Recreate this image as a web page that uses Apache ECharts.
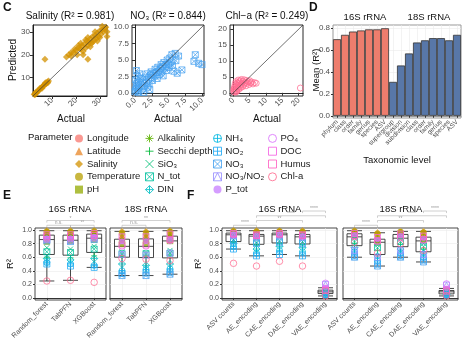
<!DOCTYPE html>
<html>
<head>
<meta charset="utf-8">
<script src="https://cdn.jsdelivr.net/npm/echarts@6/dist/echarts.min.js"></script>
<style>
  html, body { margin: 0; padding: 0; background: #fff; }
  #chart { width: 467px; height: 350px; }
</style>
</head>
<body>
<div id="chart"></div>
<script>
// ---------- data ----------
// panel C: [actual, predicted]
const salinityPts = [
  [2.5,2.8],[3,3.2],[3.5,3.3],[4,4.2],[4.5,4.4],[5,5.1],[5.5,5.6],[6,6.1],[6.3,6.5],[6.8,6.7],
  [7,7.2],[7.5,7.4],[8,8.1],[8.2,7.8],[8.5,8.6],[3.2,3.6],[4.8,5.3],[5.8,5.4],[7.2,7.8],[2.8,2.5],
  [7,18],[25,18],
  [16,19],[17,20],[18,19.5],[19,21],[20,22],[20.5,20],[21,23],[22,22.5],[22.5,24],[23,21.5],
  [23.5,24.5],[24,23],[24.5,26],[25,24],[25.5,25.5],[26,27],[26.5,25],[27,28],[27.5,26.5],[28,28.5],
  [28.5,27],[29,29.5],[29.5,28],[30,30.5],[30.5,29],[31,31],[31.5,30],[32,31.5],[32.5,32],[33,30],
  [33,28],[21,24],[24,26.5],[26,23.5],[28,30],[30,27.5],[19.5,22.5],[22,25],[27,25.5],[31,32.5],
  [23,20],[18,21],[25,27.5],[29,26]
];
const no3Pts = [
  [0,0.2],[0.1,0.5],[0.2,1.2],[0.1,2.0],[0.3,2.6],[0.2,0.9],[0.4,0.3],[0.5,1.6],[0.6,0.8],[0.8,2.2],
  [1,1.2],[1.1,0.6],[1.2,1.8],[1.4,1.1],[1.5,2.4],[1.7,1.6],[1.8,2.9],[2,2.1],[2.1,1.4],[2.3,2.7],
  [2.4,3.2],[2.5,2.4],[2.6,1.9],[2.8,3.0],[3,2.6],[3,3.6],[3.2,3.1],[3.3,2.2],[3.4,3.9],[3.5,3.3],
  [3.6,2.8],[3.8,3.7],[3.9,4.3],[4,3.2],[4.1,4.0],[4.2,2.6],[4.3,4.6],[4.5,3.8],[4.6,4.3],[4.7,3.4],
  [4.8,5.0],[5,4.4],[5.1,3.9],[5.2,5.3],[5.4,4.7],[5.5,5.8],[5.6,4.2],[5.8,3.3],[6,6.0],[6.1,4.9],
  [6.3,3.0],[6.5,5.6],[7,3.5],[8.8,4.8],[9,5.8],[9.5,4.5],[10,4.3],[0.3,1.5],[0.7,2.9],[0.2,3.4],
  [1.3,0.1],[2.2,0.5],[0.5,0.1],[1.9,0.9]
];
const chlaPts = [
  [0.1,0.5],[0.2,1.2],[0.3,0.3],[0.4,2.0],[0.5,1.5],[0.6,2.8],[0.7,0.8],[0.8,3.5],[0.9,1.9],[1,2.5],
  [1.1,0.6],[1.2,3.1],[1.3,1.4],[1.4,2.2],[1.5,4.0],[1.6,2.9],[1.7,1.1],[1.8,3.4],[2,2.0],[2.1,3.8],
  [2.2,1.6],[2.4,2.7],[2.5,4.2],[2.6,3.0],[2.8,1.9],[3,3.6],[3.1,2.4],[3.3,4.1],[3.5,2.9],[3.7,3.3],
  [3.9,2.2],[4,3.9],[4.2,3.0],[4.5,3.5],[4.8,2.6],[5,3.8],[5.3,3.1],[5.6,3.4],[6,2.8],[6.5,3.2],
  [0.3,1.0],[0.6,0.2],[1.0,0.4],[20.5,1.5],[7,3.0]
];
const salTicks = [10, 20, 30];
const no3Ticks = [0, 2.5, 5, 7.5, 10];
const chlaTicks = [0, 5, 10, 15, 20];

// panel D
const taxa16S = ['phylum','class','order','family','genus','species','ASV'];
const taxa18S = ['supergroup','division','subdivision','class','order','family','genus','species','ASV'];
const meanR2_16S = [0.70, 0.74, 0.77, 0.78, 0.79, 0.79, 0.80];
const meanR2_18S = [0.31, 0.46, 0.57, 0.67, 0.69, 0.71, 0.71, 0.69, 0.74];
const meanTicks = [0, 0.2, 0.4, 0.6, 0.8];

// panels E/F
const params = ['Longitude','Latitude','Salinity','Temperature','pH',
  'Alkalinity','Secchi depth','SiO₃','N_tot','DIN',
  'NH₄','NO₂','NO₃','NO₃/NO₂','P_tot',
  'PO₄','DOC','Humus','Chl-a'];
const modelCats = ['Random_forest','TabPFN','XGBoost'];
const encCats = ['ASV counts','AE_encoding','CAE_encoding','DAE_encoding','VAE_encoding'];
const r2Ticks = [0, 0.2, 0.4, 0.6, 0.8, 1.0];

// R² of each parameter (params order), one row per category
const e16S = [
  [.94,.96,.99,.97,.83,.92,.60,.74,.68,.58,.52,.50,.84,.86,.88,.87,.93,.90,.25],
  [.93,.96,.99,.97,.84,.92,.59,.72,.67,.56,.50,.47,.83,.85,.88,.87,.93,.90,.26],
  [.95,.97,.99,.98,.86,.93,.62,.76,.72,.58,.48,.45,.86,.88,.90,.89,.95,.92,.23]
];
const e18S = [
  [.88,.92,.98,.95,.80,.85,.62,.68,.65,.50,.40,.36,.33,.64,.83,.76,.90,.78,.58],
  [.88,.93,.98,.95,.81,.86,.62,.67,.65,.48,.42,.37,.33,.63,.84,.76,.90,.78,.57],
  [.92,.94,.99,.97,.84,.90,.63,.70,.66,.50,.43,.38,.35,.66,.86,.84,.94,.86,.55]
];
const f16S = [
  [.97,.98,.99,.98,.94,.96,.82,.90,.86,.80,.76,.72,.84,.92,.93,.93,.95,.94,.51],
  [.95,.97,.99,.97,.92,.94,.78,.88,.82,.72,.66,.62,.80,.90,.91,.91,.93,.92,.47],
  [.97,.98,.99,.98,.93,.96,.80,.90,.84,.76,.70,.64,.82,.92,.93,.93,.95,.94,.54],
  [.95,.97,.99,.97,.91,.94,.79,.88,.83,.74,.68,.62,.80,.90,.91,.90,.93,.92,.47],
  [.12,.10,.08,.11,.09,.10,.06,.09,.08,.05,.04,.05,.07,.20,.15,.22,.13,.11,.03]
];
const f18S = [
  [.95,.97,.99,.98,.92,.94,.80,.88,.84,.74,.68,.62,.60,.70,.93,.90,.95,.92,.82],
  [.86,.92,.96,.94,.82,.87,.70,.78,.74,.62,.55,.50,.47,.60,.86,.83,.89,.84,.66],
  [.94,.96,.98,.97,.91,.93,.79,.87,.83,.72,.66,.62,.60,.70,.92,.88,.94,.91,.80],
  [.90,.94,.98,.96,.85,.89,.72,.80,.76,.66,.60,.56,.53,.64,.88,.84,.91,.86,.70],
  [.10,.09,.08,.12,.09,.10,.06,.09,.07,.05,.04,.05,.06,.19,.14,.21,.12,.10,.03]
];
// significance: [catA, catB, label, level]
const sigE16 = [[0,1,'n.s.',0],[1,2,'**',0],[0,2,'*',1]];
const sigE18 = [[0,1,'n.s.',0],[0,2,'**',1]];
const sigF16 = [[0,1,'****',0],[1,3,'**',1],[1,4,'****',2],[3,4,'****',3]];
const sigF18 = [[0,1,'****',0],[1,3,'**',1],[1,4,'****',2],[3,4,'****',3]];

// ---------- styles ----------
const CIRC = 'path://M0,5A5,5,0,1,1,10,5A5,5,0,1,1,0,5Z';
const SYM = {
  asterisk: 'path://M5,0L5,10M0,5L10,5M1.5,1.5L8.5,8.5M8.5,1.5L1.5,8.5',
  plus: 'path://M5,0L5,10M0,5L10,5',
  cross: 'path://M0,0L10,10M10,0L0,10',
  squareX: 'path://M0,0L10,0L10,10L0,10ZM0,0L10,10M10,0L0,10',
  diamondPlus: 'path://M5,0L10,5L5,10L0,5ZM5,0L5,10M0,5L10,5',
  circlePlus: CIRC + 'M5,0L5,10M0,5L10,5',
  squarePlus: 'path://M0,0L10,0L10,10L0,10ZM5,0L5,10M0,5L10,5',
  squareTri: 'path://M0,0L10,0L10,10L0,10ZM0,10L5,0L10,10',
  openCircle: CIRC,
  openSquare: 'path://M0,0L10,0L10,10L0,10Z'
};
// [symbol, color, filled, size]
const pStyle = [
  ['circle','#F8766D',1,6],['triangle','#E88526',1,6],['diamond','#D39200',1,7],['circle','#B79F00',1,6.5],['rect','#93AA00',1,6.5],
  [SYM.asterisk,'#5EB300',0,6],[SYM.plus,'#00BA38',0,6],[SYM.cross,'#00BF74',0,5],[SYM.squareX,'#00C19F',0,6],[SYM.diamondPlus,'#00BFC4',0,7],
  [SYM.circlePlus,'#00B9E3',0,6],[SYM.squarePlus,'#22AAF5',0,6],[SYM.squareX,'#4AA3F0',0,6],[SYM.squareTri,'#9A90FF',0,6],['circle','#C77CFF',1,5.5],
  [SYM.openCircle,'#DB72FB',0,6],[SYM.openSquare,'#F564E3',0,6],[SYM.openSquare,'#FF61C3',0,6],[SYM.openCircle,'#FF6C91',0,6.5]
];
function itemStyleOf(s) {
  return s[2] ? { color: s[1], opacity: 0.75 }
              : { color: 'transparent', borderColor: s[1], borderWidth: 0.9, opacity: 0.85 };
}

const FONT = 'Liberation Sans, Arial, sans-serif';
const txtCol = '#4d4d4d';

function quantile(s, p) {
  const h = (s.length - 1) * p, lo = Math.floor(h);
  const hi = Math.min(lo + 1, s.length - 1);
  return s[lo] + (h - lo) * (s[hi] - s[lo]);
}
function boxStats(vals) {
  const s = vals.slice().sort((a, b) => a - b);
  const q1 = quantile(s, 0.25), med = quantile(s, 0.5), q3 = quantile(s, 0.75);
  const iqr = q3 - q1;
  const lo = s.find(v => v >= q1 - 1.5 * iqr);
  const hi = s.slice().reverse().find(v => v <= q3 + 1.5 * iqr);
  return [lo, q1, med, q3, hi];
}

// ---------- chart ----------
const chart = echarts.init(document.getElementById('chart'));

const grids = [
  { left: 33, top: 25, width: 74, height: 71 },   // C salinity
  { left: 132, top: 25, width: 72, height: 71 },  // C NO3
  { left: 230, top: 25, width: 73, height: 71 },  // C Chl-a
  { left: 333, top: 25, width: 128, height: 93 }, // D
  { left: 35, top: 228, width: 71, height: 72 },  // E 16S
  { left: 110, top: 228, width: 72, height: 72 }, // E 18S
  { left: 222, top: 228, width: 115, height: 72 },// F 16S
  { left: 343, top: 228, width: 115, height: 72 } // F 18S
].map((g, i) => Object.assign(g, {
  show: true, outerBoundsMode: 'none', backgroundColor: '#fff',
  borderColor: i < 3 ? '#111' : (i === 3 ? '#999' : '#333'), borderWidth: i === 3 ? 1 : 0.9
}));

const xAxes = [], yAxes = [], series = [];

function cAxis(gi, min, max, ticks, dec, isX) {
  return {
    type: 'value', gridIndex: gi, min: min, max: max,
    axisLine: { show: true, lineStyle: { color: '#111', width: 0.9 } },
    axisTick: { show: true, length: 3, lineStyle: { color: '#333' }, customValues: ticks },
    axisLabel: { customValues: ticks, fontSize: 8, color: txtCol, fontFamily: FONT, margin: 3,
      rotate: isX ? 45 : 0, formatter: v => (+v).toFixed(dec) },
    splitLine: { show: false }
  };
}
const cRanges = [[2, 33, salTicks, 0], [-0.45, 10.3, no3Ticks, 1], [-1, 21.3, chlaTicks, 0]];
const cData = [salinityPts, no3Pts, chlaPts];
const cStyle = [pStyle[2], pStyle[12], pStyle[18]];
cRanges.forEach((r, i) => {
  xAxes.push(cAxis(i, r[0], r[1], r[2], r[3], true));
  yAxes.push(cAxis(i, r[0], r[1], r[2], r[3], false));
  series.push({
    type: 'scatter', xAxisIndex: i, yAxisIndex: i, data: cData[i],
    symbol: cStyle[i][0], symbolSize: i === 0 ? 7 : 6, itemStyle: itemStyleOf(cStyle[i]), z: 2
  });
  series.push({
    type: 'line', xAxisIndex: i, yAxisIndex: i, data: [[r[0], r[0]], [r[1], r[1]]],
    symbol: 'none', lineStyle: { color: '#333', width: 0.7 }, z: 3, silent: true
  });
});

// D
const taxaAll = taxa16S.concat(taxa18S);
xAxes.push({
  type: 'category', gridIndex: 3, data: taxaAll.map((t, i) => String(i)),
  axisLine: { show: true, lineStyle: { color: '#999' } },
  axisTick: { show: true, length: 2, alignWithLabel: true, lineStyle: { color: '#333' } },
  axisLabel: { interval: 0, rotate: 45, fontSize: 6.5, color: txtCol, fontFamily: FONT, margin: 3,
    formatter: v => taxaAll[+v] },
  splitLine: { show: true, alignWithLabel: true, lineStyle: { color: '#ebebeb', width: 0.6 } }
});
yAxes.push({
  type: 'value', gridIndex: 3, min: -0.02, max: 0.83,
  axisLine: { show: false },
  axisTick: { show: true, length: 2, customValues: meanTicks, lineStyle: { color: '#333' } },
  axisLabel: { customValues: meanTicks, fontSize: 8, color: txtCol, fontFamily: FONT, margin: 3,
    formatter: v => (+v).toFixed(1) },
  splitLine: { show: true, lineStyle: { color: '#ebebeb', width: 0.6 } }
});
series.push({
  type: 'bar', xAxisIndex: 3, yAxisIndex: 3, barCategoryGap: '0%',
  data: meanR2_16S.map(v => ({ value: v, itemStyle: { color: '#EE7D6D' } }))
    .concat(meanR2_18S.map(v => ({ value: v, itemStyle: { color: '#5877A8' } }))),
  itemStyle: { borderColor: '#333', borderWidth: 0.8 }
});

// E / F
const boxPanels = [
  { gi: 4, cats: modelCats, vals: e16S, yLabels: true },
  { gi: 5, cats: modelCats, vals: e18S, yLabels: false },
  { gi: 6, cats: encCats, vals: f16S, yLabels: true },
  { gi: 7, cats: encCats, vals: f18S, yLabels: false }
];
boxPanels.forEach(p => {
  xAxes.push({
    type: 'category', gridIndex: p.gi, data: p.cats,
    axisLine: { show: true, lineStyle: { color: '#333' } },
    axisTick: { show: true, length: 2, alignWithLabel: true, lineStyle: { color: '#333' } },
    axisLabel: { interval: 0, rotate: 45, fontSize: 7, color: txtCol, fontFamily: FONT, margin: 3 },
    splitLine: { show: true, alignWithLabel: true, lineStyle: { color: '#ebebeb', width: 0.6 } }
  });
  yAxes.push({
    type: 'value', gridIndex: p.gi, min: -0.03, max: 1.03,
    axisLine: { show: false },
    axisTick: { show: p.yLabels, length: 2, customValues: r2Ticks, lineStyle: { color: '#333' } },
    axisLabel: { show: p.yLabels, customValues: r2Ticks, fontSize: 7, color: txtCol, fontFamily: FONT, margin: 3,
      formatter: v => (+v).toFixed(1) },
    splitLine: { show: true, lineStyle: { color: '#ebebeb', width: 0.6 } }
  });
  series.push({
    type: 'boxplot', xAxisIndex: p.gi, yAxisIndex: p.gi, boxWidth: [15, 15],
    data: p.vals.map(boxStats),
    itemStyle: { color: '#fff', borderColor: '#333', borderWidth: 0.9 }, z: 2, silent: true
  });
  params.forEach((name, k) => {
    const s = pStyle[k];
    series.push({
      type: 'scatter', name: name, xAxisIndex: p.gi, yAxisIndex: p.gi,
      data: p.vals.map((row, i) => [i, row[k]]),
      symbol: s[0], symbolSize: s[3], itemStyle: itemStyleOf(s), z: 3
    });
  });
});

const legendCols = [[0, 5, 75], [5, 10, 145], [10, 15, 213], [15, 19, 268]];
const legends = legendCols.map(c => ({
  data: params.slice(c[0], c[1]), orient: 'vertical', left: c[2], top: 132,
  itemWidth: 8, itemHeight: 8, itemGap: 0, selectedMode: false, padding: 0,
  textStyle: { fontSize: 9.5, color: '#222', fontFamily: FONT, lineHeight: 12.8, padding: [0, 0, 0, -1] },
  itemStyle: { borderWidth: 1 }
}));

chart.setOption({
  animation: false,
  textStyle: { fontFamily: FONT },
  grid: grids, xAxis: xAxes, yAxis: yAxes, series: series, legend: legends
});

// ---------- text + significance brackets ----------
function T(text, x, y, o) {
  o = o || {};
  return {
    type: 'text', x: x, y: y, rotation: o.rot || 0, silent: true,
    style: { text: text, fontSize: o.size || 10, fontWeight: o.bold ? 'bold' : 'normal',
      fill: o.fill || '#111', fontFamily: FONT, align: o.align || 'center', verticalAlign: 'middle' }
  };
}
const els = [
  T('C', 3, 8, { bold: true, size: 12, align: 'left' }),
  T('D', 309, 8, { bold: true, size: 12, align: 'left' }),
  T('E', 3, 196, { bold: true, size: 12, align: 'left' }),
  T('F', 187, 196, { bold: true, size: 12, align: 'left' }),
  T('Salinity (R² = 0.981)', 70, 16),
  T('NO₃ (R² = 0.844)', 168, 16),
  T('Chl−a (R² = 0.249)', 267, 16),
  T('Predicted', 13, 60, { rot: Math.PI / 2 }),
  T('Actual', 71, 119), T('Actual', 168, 119), T('Actual', 267, 119),
  T('16S rRNA', 365, 17, { size: 9.5 }), T('18S rRNA', 429, 17, { size: 9.5 }),
  T('Mean (R²)', 316, 70, { rot: Math.PI / 2, size: 9.5 }),
  T('Taxonomic level', 397, 160, { size: 9.5 }),
  T('Parameter', 28, 137, { align: 'left', size: 9.5 }),
  T('16S rRNA', 70, 209, { size: 9.5 }), T('18S rRNA', 146, 209, { size: 9.5 }),
  T('16S rRNA', 280, 209, { size: 9.5 }), T('18S rRNA', 401, 209, { size: 9.5 }),
  T('R²', 10, 264, { rot: Math.PI / 2, size: 9.5 }),
  T('R²', 198, 264, { rot: Math.PI / 2, size: 9.5 })
];
const levels = [1.07, 1.14, 1.21, 1.28];
function brackets(gi, sig) {
  sig.forEach(([a, b, label, lvl]) => {
    const y = levels[lvl];
    const p1 = chart.convertToPixel({ gridIndex: gi }, [a, y]);
    const p2 = chart.convertToPixel({ gridIndex: gi }, [b, y]);
    const pd = chart.convertToPixel({ gridIndex: gi }, [a, y - 0.03]);
    els.push({
      type: 'polyline', silent: true,
      shape: { points: [[p1[0], pd[1]], p1, p2, [p2[0], pd[1]]] },
      style: { stroke: '#b0b0b0', lineWidth: 0.6, fill: 'none' }
    });
    els.push(T(label, (p1[0] + p2[0]) / 2, p1[1] - 2.2, { size: 5, fill: '#999' }));
  });
}
brackets(4, sigE16); brackets(5, sigE18); brackets(6, sigF16); brackets(7, sigF18);

chart.setOption({ graphic: els });
</script>
</body>
</html>
